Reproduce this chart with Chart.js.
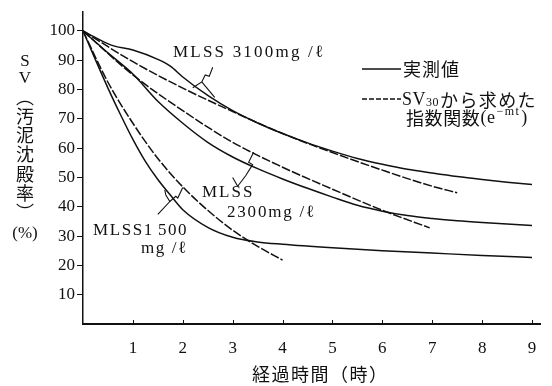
<!DOCTYPE html>
<html>
<head>
<meta charset="utf-8">
<script src="https://cdn.jsdelivr.net/npm/chart.js@4/dist/chart.umd.min.js"></script>
<style>
  html, body { margin: 0; padding: 0; background: #fff; }
  #wrap { width: 552px; height: 386px; }
</style>
</head>
<body>
<div id="wrap"><canvas id="c" width="552" height="386"></canvas></div>
<script>
// Settling curves: SV (sludge volume, %) against elapsed time (h)
const xTicks = [1, 2, 3, 4, 5, 6, 7, 8, 9];
const yTicks = [10, 20, 30, 40, 50, 60, 70, 80, 90, 100];

// MLSS 3100 mg/l
const hours3100Measured = [0, 0.3, 0.6, 1, 1.5, 1.75, 2, 2.5, 3, 3.5, 4, 4.5, 5, 5.5, 6, 6.5, 7, 7.5, 8, 8.5, 9];
const sv3100Measured    = [100, 97.3, 95, 93.5, 90.3, 88, 84.3, 78, 72.8, 68.6, 65, 61.8, 59, 56.5, 54.5, 52.8, 51.5, 50.3, 49.3, 48.4, 47.6];
const hours3100Fit = [0, 1, 2, 3, 4, 5, 6, 7, 7.5];
const sv3100Fit    = [100, 89.5, 80.5, 72.5, 65, 58.5, 52.5, 47, 44.8];

// MLSS 2300 mg/l
const hours2300Measured = [0, 0.5, 1, 1.5, 2, 2.5, 3, 3.5, 4, 4.5, 5, 5.5, 6, 6.5, 7, 7.5, 8, 8.5, 9];
const sv2300Measured    = [100, 92.5, 85.3, 76, 68.5, 62, 57, 53, 49.5, 46.3, 43.3, 40.5, 38.5, 37, 36, 35.2, 34.6, 34.1, 33.6];
const hours2300Fit = [0, 1, 2, 3, 4, 5, 6, 6.95];
const sv2300Fit    = [100, 85, 72.8, 62, 53.5, 46, 38.8, 32.8];

// MLSS 1500 mg/l
const hours1500Measured = [0, 0.5, 0.75, 1, 1.25, 1.5, 1.75, 2, 2.5, 3, 3.5, 4, 5, 6, 7, 8, 9];
const sv1500Measured    = [100, 80.5, 71.5, 63, 55.5, 49.3, 44, 39, 33, 29.6, 28, 27.2, 26, 25, 24.2, 23.4, 22.7];
const hours1500Fit = [0, 0.5, 1, 1.5, 2, 2.5, 3, 3.5, 4];
const sv1500Fit    = [100, 82.5, 68.5, 56.5, 46.8, 38.8, 32, 26.5, 21.8];

const INK = '#111111';
const SERIF = '"Liberation Serif", "DejaVu Serif", serif';
const CJK = '"Noto Sans CJK JP", sans-serif';

function pts(xs, ys) { return xs.map((x, i) => ({ x: x, y: ys[i] })); }

function series(label, xs, ys, dashed) {
  return {
    label: label,
    data: pts(xs, ys),
    borderColor: INK,
    borderWidth: 1.5,
    borderDash: dashed ? [9, 2] : [],
    pointRadius: 0,
    fill: false,
    cubicInterpolationMode: 'monotone'
  };
}

// Leader marks linking the curves to their labels, in data units (h, %)
const callouts = [
  [[2.2, 80.6], [2.38, 82.6], [2.45, 85.0], [2.53, 84.5], [2.6, 87.6]],
  [[2.38, 82.6], [2.64, 77.3]],
  [[3.42, 58.6], [3.32, 55.2], [3.4, 54.4], [3.26, 50.6], [3.1, 47.0]],
  [[3.1, 47.0], [3.0, 50.0]],
  [[1.5, 37.4], [1.74, 41.8], [1.66, 44.0], [1.64, 45.8]],
  [[1.74, 41.8], [1.86, 43.6], [1.9, 43.0], [2.0, 46.6]]
];

function drawSpaced(ctx, text, x, y, spacing) {
  let cx = x;
  for (const ch of text) {
    ctx.fillText(ch, cx, y);
    cx += ctx.measureText(ch).width + spacing;
  }
  return cx;
}

const decorations = {
  id: 'decorations',
  afterDatasetsDraw(chart) {
    const ctx = chart.ctx;
    const xs = chart.scales.x, ys = chart.scales.y;
    const area = chart.chartArea;
    ctx.save();
    ctx.strokeStyle = INK;
    ctx.fillStyle = INK;

    // inward tick marks on the time axis
    ctx.lineWidth = 1;
    xTicks.forEach(t => {
      const px = Math.round(xs.getPixelForValue(t)) + 0.5;
      ctx.beginPath();
      ctx.moveTo(px, area.bottom);
      ctx.lineTo(px, area.bottom - 4);
      ctx.stroke();
    });

    // callout strokes
    ctx.lineWidth = 1.1;
    callouts.forEach(line => {
      ctx.beginPath();
      line.forEach((p, i) => {
        const px = xs.getPixelForValue(p[0]), py = ys.getPixelForValue(p[1]);
        if (i === 0) ctx.moveTo(px, py); else ctx.lineTo(px, py);
      });
      ctx.stroke();
    });

    // curve labels
    ctx.textBaseline = 'middle';
    ctx.textAlign = 'left';
    ctx.font = '17px ' + SERIF;
    drawSpaced(ctx, 'MLSS 3100mg /ℓ', 173, 53, 2.2);
    drawSpaced(ctx, 'MLSS', 202, 193, 2);
    drawSpaced(ctx, '2300mg /ℓ', 227, 213, 1.8);
    let lx = drawSpaced(ctx, 'MLSS1', 93, 231, 1.6);
    drawSpaced(ctx, '500', lx + 4, 231, 1.6);
    drawSpaced(ctx, 'mg /ℓ', 141, 249, 1.6);

    // legend
    ctx.lineWidth = 1.5;
    ctx.beginPath();
    ctx.moveTo(362, 69); ctx.lineTo(401, 69);
    ctx.stroke();
    ctx.setLineDash([5, 2]);
    ctx.beginPath();
    ctx.moveTo(362, 99); ctx.lineTo(401, 99);
    ctx.stroke();
    ctx.setLineDash([]);

    ctx.font = '18px ' + CJK;
    drawSpaced(ctx, '実測値', 403, 69, 1);
    ctx.font = '18px ' + SERIF;
    let cx = drawSpaced(ctx, 'SV', 402, 100, 0.5);
    ctx.font = '12px ' + SERIF;
    cx = drawSpaced(ctx, '30', cx, 103, 0.5);
    ctx.font = '18px ' + CJK;
    drawSpaced(ctx, 'から求めた', cx + 1, 100, 1.4);
    cx = drawSpaced(ctx, '指数関数', 406, 118, 0.6);
    ctx.font = '18px ' + SERIF;
    cx = drawSpaced(ctx, '(e', cx, 118, 0.5);
    ctx.font = '12px ' + SERIF;
    cx = drawSpaced(ctx, '−mt', cx + 1, 112, 1.5);
    ctx.font = '18px ' + SERIF;
    drawSpaced(ctx, ')', cx + 1, 118, 0);

    // vertical axis title
    ctx.textAlign = 'center';
    ctx.font = '17px ' + SERIF;
    ctx.fillText('S', 25, 62);
    ctx.fillText('V', 25, 79);
    ctx.font = '18px ' + CJK;
    ['︵', '汚', '泥', '沈', '殿', '率', '︶'].forEach((ch, i) => {
      ctx.fillText(ch, 25, 97 + i * 19.2);
    });
    ctx.font = '17px ' + SERIF;
    ctx.fillText('(%)', 25, 234);

    // horizontal axis title
    ctx.font = '18px ' + CJK;
    ctx.textAlign = 'left';
    drawSpaced(ctx, '経過時間（時）', 252, 374, 1.5);
    ctx.restore();
  }
};

new Chart(document.getElementById('c'), {
  type: 'line',
  data: {
    datasets: [
      series('MLSS 3100 実測値', hours3100Measured, sv3100Measured, false),
      series('MLSS 3100 指数関数', hours3100Fit, sv3100Fit, true),
      series('MLSS 2300 実測値', hours2300Measured, sv2300Measured, false),
      series('MLSS 2300 指数関数', hours2300Fit, sv2300Fit, true),
      series('MLSS 1500 実測値', hours1500Measured, sv1500Measured, false),
      series('MLSS 1500 指数関数', hours1500Fit, sv1500Fit, true)
    ]
  },
  options: {
    responsive: false,
    animation: false,
    devicePixelRatio: 1,
    layout: { padding: { top: 8, right: 12, left: 0, bottom: 0 } },
    plugins: { legend: { display: false }, tooltip: { enabled: false } },
    scales: {
      x: {
        type: 'linear',
        min: 0,
        max: 9.16,
        afterBuildTicks: s => { s.ticks = xTicks.map(v => ({ value: v })); },
        afterFit: s => { s.height = 62; },
        grid: { display: true, drawOnChartArea: false, drawTicks: false },
        border: { display: true, color: INK, width: 2 },
        ticks: { color: INK, font: { family: SERIF, size: 17 }, padding: 14, maxRotation: 0 }
      },
      y: {
        type: 'linear',
        min: 0,
        max: 106.4,
        afterBuildTicks: s => { s.ticks = yTicks.map(v => ({ value: v })); },
        afterFit: s => { s.width = 83; },
        grid: { display: true, drawOnChartArea: false, drawTicks: true, tickLength: 6, color: INK, lineWidth: 1 },
        border: { display: true, color: INK, width: 1.5 },
        ticks: { color: INK, font: { family: SERIF, size: 17 }, padding: 2 }
      }
    }
  },
  plugins: [decorations]
});
</script>
</body>
</html>
